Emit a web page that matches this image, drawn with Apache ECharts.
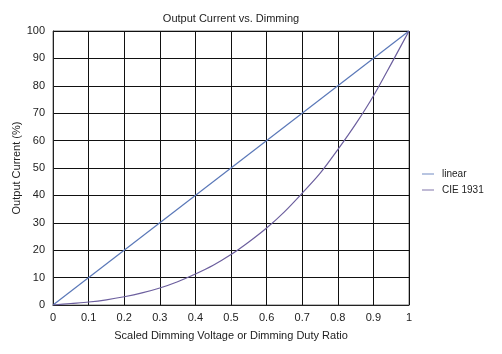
<!DOCTYPE html>
<html><head><meta charset="utf-8">
<script src="https://cdn.jsdelivr.net/npm/echarts@6/dist/echarts.min.js"></script>
<style>html,body{margin:0;padding:0;background:#fff}#c{width:502px;height:354px}</style>
</head><body><div id="c"></div>
<script>
const xTicks = [0,0.1,0.2,0.3,0.4,0.5,0.6,0.7,0.8,0.9,1];
const linearX = [0, 1];
const linearY = [0, 100];
const cieX = [0,0.05,0.1,0.15,0.2,0.25,0.3,0.35,0.4,0.45,0.5,0.55,0.6,0.65,0.7,0.75,0.8,0.85,0.9,0.95,1];
const cieY = [0,0.55,1.1,1.9,3.0,4.4,6.2,8.5,11.3,14.5,18.4,23,28.1,34,40.8,48,56.7,66,76.3,88,100];
const seriesNames = ['linear','CIE 1931'];

const font = 'Liberation Sans, Arial, sans-serif';
const chart = echarts.init(document.getElementById('c'), null, {renderer:'canvas'});
chart.setOption({
  animation:false,
  backgroundColor:'#fff',
  title:{text:'Output Current vs. Dimming', left:226, top:8, textAlign:'center',
    textStyle:{fontFamily:font,fontSize:11,fontWeight:'normal',color:'#222'}},
  legend:{orient:'vertical', left:417, top:164, itemGap:6, itemWidth:12, itemHeight:8,
    textStyle:{fontFamily:font,fontSize:10,color:'#222',padding:[0,0,0,3]},
    data:seriesNames.map(n=>({name:n, icon:'path://M0,0 L14,0 L14,1 L0,1 Z'}))},
  grid:{left:53,right:93,top:31,bottom:49,show:true,borderColor:'#777',borderWidth:1,
    containLabel:false, outerBoundsMode:'none'},
  xAxis:{type:'value',min:0,max:1,interval:0.1,
    name:'Scaled Dimming Voltage or Dimming Duty Ratio', nameLocation:'middle', nameGap:25,
    nameMoveOverlap:false,
    nameTextStyle:{fontFamily:font,fontSize:11,color:'#222'},
    axisLine:{lineStyle:{color:'#222',width:1}},
    axisTick:{show:false},
    axisLabel:{fontFamily:font,fontSize:11,color:'#222',margin:7,
      formatter:v=>{const t=xTicks.find(x=>Math.abs(x-v)<1e-6);return t===undefined?'':String(t);}},
    splitLine:{lineStyle:{color:'#111',width:1}}},
  yAxis:{type:'value',min:0,max:100,interval:10,
    name:'Output Current (%)', nameLocation:'middle', nameGap:31,
    nameMoveOverlap:false,
    nameTextStyle:{fontFamily:font,fontSize:11,color:'#222'},
    axisLine:{show:true,lineStyle:{color:'#222',width:1}},
    axisTick:{show:false},
    axisLabel:{fontFamily:font,fontSize:11,color:'#222',margin:8},
    splitLine:{lineStyle:{color:'#111',width:1}}},
  series:[
    {name:seriesNames[0],type:'line',data:linearX.map((x,i)=>[x,linearY[i]]),symbol:'none',
      lineStyle:{color:'#5a78b8',width:1.2},itemStyle:{color:'#5a78b8'}},
    {name:seriesNames[1],type:'line',data:cieX.map((x,i)=>[x,cieY[i]]),symbol:'none',smooth:0.3,
      lineStyle:{color:'#6c5f9e',width:1.2},itemStyle:{color:'#6c5f9e'}}
  ]
});
</script></body></html>
